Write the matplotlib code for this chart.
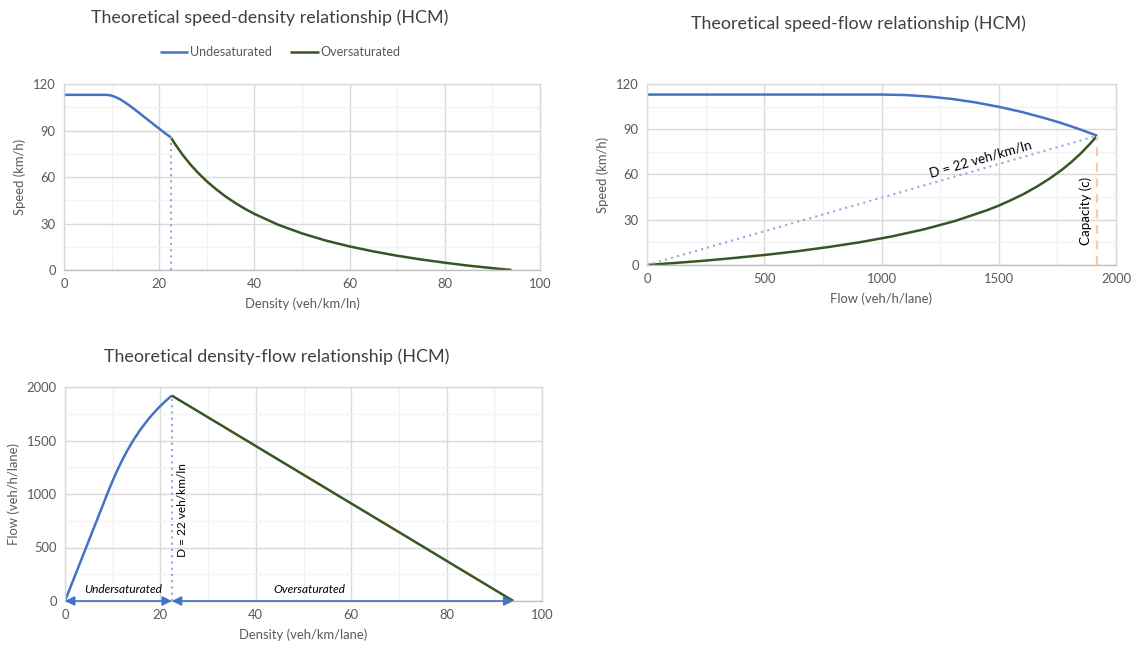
import matplotlib
matplotlib.use("Agg")
import matplotlib.pyplot as plt
from matplotlib.ticker import MultipleLocator

plt.rcParams['font.family'] = ['Lato', 'DejaVu Sans']

# ---- data ----
under_flow = [0, 1000, 1100, 1200, 1300, 1400, 1500, 1600, 1700, 1750, 1800, 1850, 1880, 1920]
under_speed = [113, 113, 112.7, 111.7, 110.1, 107.8, 104.9, 101.4, 97.2, 94.9, 92.4, 89.7, 88.0, 85.7]
under_density = [0, 8.85, 9.76, 10.74, 11.81, 12.98, 14.29, 15.78, 17.49, 18.45, 19.49, 20.62, 21.36, 22.4]

over_density = [22.4, 23.5, 25, 26.5, 28, 30, 32, 34, 36, 38, 40, 45, 50, 55, 60, 65, 70, 75, 80, 85, 90, 94]
over_flow = [1920, 1890, 1850, 1810, 1770, 1716, 1663, 1609, 1555, 1502, 1448, 1314, 1180, 1046,
             912, 778, 644, 510, 375, 241, 107, 0]
over_speed = [85.7, 80.5, 74.0, 68.3, 63.2, 57.2, 52.0, 47.3, 43.2, 39.5, 36.2, 29.2, 23.6, 19.0,
              15.2, 12.0, 9.2, 6.8, 4.7, 2.8, 1.2, 0]

crit_density = 22.4
capacity = 1920
crit_speed = 85.7
jam_density = 94

titles = ["Theoretical speed-density relationship (HCM)",
          "Theoretical speed-flow relationship (HCM)",
          "Theoretical density-flow relationship (HCM)"]
series_names = ["Undesaturated", "Oversaturated"]

BLUE = "#4472C4"
GREEN = "#375623"
ORANGE = "#F8CBAD"
DOTBLUE = "#8FAADC"
TXT = "#595959"
TITLE = "#404040"

FS_TICK = 9.4
FS_LAB = 9.4
FS_TITLE = 12.9

W, H = 1136, 648
fig = plt.figure(figsize=(W / 100, H / 100), dpi=100)
fig.patch.set_facecolor("white")


def rect(l, t, r, b):
    return [l / W, 1 - b / H, (r - l) / W, (b - t) / H]


def style(ax, xmaj, xmin, ymaj, ymin):
    ax.xaxis.set_major_locator(MultipleLocator(xmaj))
    ax.xaxis.set_minor_locator(MultipleLocator(xmin))
    ax.yaxis.set_major_locator(MultipleLocator(ymaj))
    ax.yaxis.set_minor_locator(MultipleLocator(ymin))
    ax.grid(which="major", color="#D9D9D9", lw=1.0)
    ax.grid(which="minor", color="#F2F2F2", lw=1.0)
    ax.set_axisbelow(True)
    ax.tick_params(which="both", length=0, labelsize=FS_TICK, colors=TXT, pad=6)
    for s in ax.spines.values():
        s.set_color("#D9D9D9")
        s.set_linewidth(1.0)
    ax.spines["bottom"].set_color("#BFBFBF")


LW = 1.8

# ---- top-left: speed-density ----
ax1 = fig.add_axes(rect(64, 84, 540, 270))
style(ax1, 20, 10, 30, 15)
ax1.set_xlim(0, 100)
ax1.set_ylim(0, 120)
l1, = ax1.plot(under_density, under_speed, color=BLUE, lw=LW, label=series_names[0], solid_capstyle="butt")
l2, = ax1.plot(over_density, over_speed, color=GREEN, lw=LW, label=series_names[1], solid_capstyle="butt")
ax1.plot([crit_density, crit_density], [0, crit_speed], color=DOTBLUE, lw=1.5, ls=(0, (1, 2)))
ax1.set_xlabel("Density (veh/km/ln)", fontsize=FS_LAB, color=TXT, labelpad=5)
ax1.set_ylabel("Speed (km/h)", fontsize=FS_LAB, color=TXT, labelpad=5)
fig.text(270 / W, 1 - 18 / H, titles[0], ha="center", va="center", fontsize=FS_TITLE, color=TITLE)
fig.legend(handles=[l1, l2], loc="center", bbox_to_anchor=(280 / W, 1 - 52 / H), ncol=2,
           frameon=False, fontsize=9.0, handlelength=2.3, handletextpad=0.1, columnspacing=1.5,
           labelcolor=TXT)

# ---- top-right: speed-flow ----
ax2 = fig.add_axes(rect(647, 84, 1116, 265))
style(ax2, 500, 250, 30, 15)
ax2.set_xlim(0, 2000)
ax2.set_ylim(0, 120)
ax2.plot(under_flow, under_speed, color=BLUE, lw=LW, solid_capstyle="butt")
ax2.plot(over_flow, over_speed, color=GREEN, lw=LW, solid_capstyle="butt")
ax2.plot([0, capacity], [0, crit_speed], color=DOTBLUE, lw=1.5, ls=(0, (1, 2)))
ax2.plot([capacity, capacity], [0, crit_speed], color=ORANGE, lw=1.6, ls=(0, (4, 3)))
ax2.text(1430, 66.5, "D = 22 veh/km/ln", rotation=16, ha="center", va="bottom",
         fontsize=9.6, color="black", rotation_mode="anchor")
ax2.text(1870, 36, "Capacity (c)", rotation=90, ha="center", va="center", fontsize=9.6, color="black")
ax2.set_xlabel("Flow (veh/h/lane)", fontsize=FS_LAB, color=TXT, labelpad=5)
ax2.set_ylabel("Speed (km/h)", fontsize=FS_LAB, color=TXT, labelpad=5)
fig.text(858 / W, 1 - 24 / H, titles[1], ha="center", va="center", fontsize=FS_TITLE, color=TITLE)

# ---- bottom-left: density-flow ----
ax3 = fig.add_axes(rect(65, 387, 542, 601))
style(ax3, 20, 10, 500, 250)
ax3.set_xlim(0, 100)
ax3.set_ylim(0, 2000)
ax3.plot(under_density, under_flow, color=BLUE, lw=LW, solid_capstyle="butt")
ax3.plot(over_density, over_flow, color=GREEN, lw=LW, solid_capstyle="butt")
ax3.plot([crit_density, crit_density], [0, capacity], color=DOTBLUE, lw=1.5, ls=(0, (1, 2)))
ax3.annotate("", xy=(0, 0), xytext=(crit_density, 0),
             arrowprops=dict(arrowstyle="<|-|>", color=BLUE, lw=1.2, mutation_scale=14,
                             shrinkA=0, shrinkB=0), annotation_clip=False)
ax3.annotate("", xy=(crit_density, 0), xytext=(jam_density, 0),
             arrowprops=dict(arrowstyle="<|-|>", color=BLUE, lw=1.2, mutation_scale=14,
                             shrinkA=0, shrinkB=0), annotation_clip=False)
ax3.text(12.2, 55, "Undersaturated", ha="center", va="bottom", fontsize=8.6, style="italic", color="black")
ax3.text(51.2, 55, "Oversaturated", ha="center", va="bottom", fontsize=8.6, style="italic", color="black")
ax3.text(24.7, 850, "D = 22 veh/km/ln", rotation=90, ha="center", va="center", fontsize=8.6, color="black")
ax3.set_xlabel("Density (veh/km/lane)", fontsize=FS_LAB, color=TXT, labelpad=5)
ax3.set_ylabel("Flow (veh/h/lane)", fontsize=FS_LAB, color=TXT, labelpad=5)
fig.text(277 / W, 1 - 357 / H, titles[2], ha="center", va="center", fontsize=FS_TITLE, color=TITLE)

fig.savefig("out.png", dpi=100, facecolor="white")
